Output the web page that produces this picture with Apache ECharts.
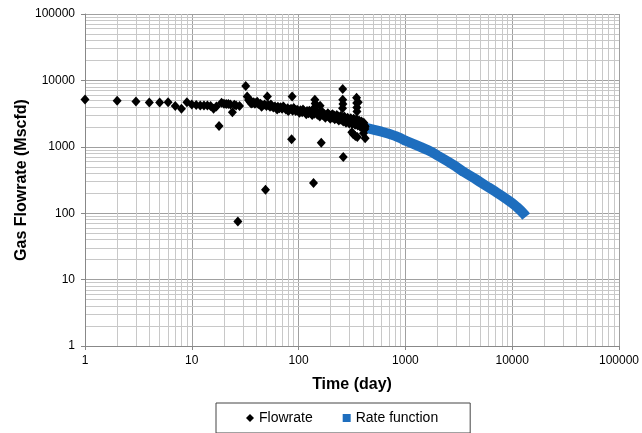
<!DOCTYPE html>
<html>
<head>
<meta charset="utf-8">
<script src="https://cdn.jsdelivr.net/npm/echarts@6/dist/echarts.min.js"></script>
<style>html,body{margin:0;padding:0;background:#fff;}#c{width:642px;height:433px;}</style>
</head>
<body>
<div id="c"></div>
<script>
// ---- data ----
var flowDays = [
  1,2,3,4,5,6,7,8,9,10,11,12,13,14,15,16,17,18,19,20,21,22,23,24,25,26,27,28,
  32,33,
  34,35,36,37,38,39,40,42,44,46,48,50,52,54,56,58,60,62,64,66,68,70,73,76,79,82,85,88,91,94,97,
  100,104,108,112,116,120,124,128,132,136,140,145,150,155,160,165,170,175,180,185,190,195,
  200,205,210,215,220,225,230,235,240,245,250,255,260,265,270,275,280,285,290,295,
  300,305,310,315,320,325,330,335,340,345,350,355,360,365,370,375,380,385,390,395,
  400,405,410,415,420,
  36,41,45,55,63,72,80,90,102,110,118,126,134,148,158,168,178,188,198,208,218,228,238,248,
  262,268,278,288,298,308,318,328,338,348,358,368,378,388,398,408,418,
  51,49,87,86,142,143,141,159,138,163,259,259,260,258,262,349,350,351,352,362,
  315,340,355,420,405,325
];
var flowRates = [
  5150,4950,4800,4650,4650,4700,4100,3750,4700,4350,4250,4200,4200,4200,4100,3750,4050,2060,4600,4450,4400,4400,4350,3300,4300,4200,75,4100,
  8200,5700,
  5050,4750,4850,4550,4700,4450,4600,4400,4450,4200,4350,4100,4250,4000,4150,3900,4050,3850,4000,3800,3950,3750,3900,3650,3800,3600,3750,3500,3700,3450,3600,
  3400,3550,3300,3450,3250,3450,3200,3350,3150,3300,3150,3300,3050,3200,3000,3200,2950,3100,2900,3050,2850,3000,
  2800,3000,2750,2950,2750,2850,2650,2850,2650,2800,2550,2700,2550,2700,2500,2650,2450,2600,2400,2550,
  2400,2550,2350,2500,2350,2500,2300,2450,2300,2450,2250,2400,2200,2350,2150,2300,2150,2250,2050,2200,
  2050,2150,2000,2100,2000,
  4500,4750,4000,4350,3650,4050,3450,3850,3250,3650,3100,3500,3000,3400,2850,3300,2750,3200,2650,3100,2600,3000,2500,2900,
  2400,2850,2300,2750,2250,2700,2200,2650,2150,2600,2100,2500,2000,2400,1900,2300,1850,
  5700,225,5700,1300,5100,4500,3900,4150,285,1150,7400,5100,4400,3800,700,5500,4550,3900,3400,4700,
  1650,1450,1400,1340,1600,1550
];
var rateDays = [410,500,600,700,800,900,1000,1200,1400,1600,1800,2000,2500,3000,3500,4000,4500,5000,6000,7000,8000,9000,10000,11000,12000,13000,13500];
var rateValues = [1960,1820,1690,1570,1460,1350,1235,1100,990,900,820,740,600,500,420,370,330,295,245,210,182,160,142,125,110,96,89];
var xTickLabels = ['1','10','100','1000','10000','100000'];
var yTickLabels = ['1','10','100','1000','10000','100000'];
var seriesNames = ['Flowrate','Rate function'];

// minor grid values 2..9 x 10^k
var minorVals = [];
for (var k = 0; k < 5; k++) for (var m = 2; m <= 9; m++) minorVals.push(m * Math.pow(10, k));

var flowData = flowDays.map(function (d, i) { return [d, flowRates[i]]; });
var rateData = rateDays.map(function (d, i) { return [d, rateValues[i]]; });

var FONT = 'Liberation Sans';
var chart = echarts.init(document.getElementById('c'), null, {renderer: 'canvas'});
chart.setOption({
  animation: false,
  backgroundColor: '#fff',
  grid: {left: 85, right: 19, top: 14, bottom: 87, containLabel: false},
  xAxis: {
    type: 'log', logBase: 10, min: 1, max: 100000,
    name: 'Time (day)', nameLocation: 'middle', nameGap: 31, nameMoveOverlap: false,
    nameTextStyle: {fontFamily: FONT, fontSize: 16, fontWeight: 'bold', color: '#000'},
    axisLine: {show: true, lineStyle: {color: '#888', width: 1}},
    axisTick: {show: true, length: 4, lineStyle: {color: '#888'}},
    axisLabel: {margin: 9, fontFamily: FONT, fontSize: 12, color: '#000',
      formatter: function (v) { return xTickLabels[Math.round(Math.log10(v))]; }},
    splitLine: {show: true, lineStyle: {color: '#a0a0a0', width: 1}}
  },
  yAxis: {
    type: 'log', logBase: 10, min: 1, max: 100000,
    name: 'Gas Flowrate (Mscfd)', nameLocation: 'middle', nameGap: 55, nameMoveOverlap: false,
    nameTextStyle: {fontFamily: FONT, fontSize: 16, fontWeight: 'bold', color: '#000'},
    axisLine: {show: true, lineStyle: {color: '#888', width: 1}},
    axisTick: {show: true, length: 4, lineStyle: {color: '#888'}},
    axisLabel: {margin: 10, fontFamily: FONT, fontSize: 12, color: '#000',
      formatter: function (v) { return yTickLabels[Math.round(Math.log10(v))]; }},
    splitLine: {show: true, lineStyle: {color: '#a0a0a0', width: 1}}
  },
  legend: {
    data: [{name: seriesNames[0], icon: 'diamond'}, {name: seriesNames[1], icon: 'rect'}],
    left: 216, top: 403,
    padding: [8, 32, 8, 30],
    itemGap: 30, itemWidth: 8, itemHeight: 8,
    borderColor: '#444', borderWidth: 1,
    textStyle: {fontFamily: FONT, fontSize: 14, color: '#000'}
  },
  series: [
    {
      name: 'grid-minor', type: 'scatter', data: [], z: 0, silent: true,
      markLine: {
        silent: true, symbol: ['none', 'none'], animation: false, z: 0, zlevel: 0,
        label: {show: false},
        lineStyle: {color: '#c8c8c8', width: 1, type: 'solid'},
        emphasis: {disabled: true},
        data: minorVals.map(function (v) { return {xAxis: v}; })
          .concat(minorVals.map(function (v) { return {yAxis: v}; }))
      }
    },
    {
      name: seriesNames[1], type: 'line', data: rateData, z: 6,
      showSymbol: false, symbol: 'rect', symbolSize: 9,
      itemStyle: {color: '#1E6EBE'},
      lineStyle: {color: '#1E6EBE', width: 10, cap: 'butt'}
    },
    {
      name: seriesNames[0], type: 'scatter', data: flowData, z: 7,
      symbol: 'diamond', symbolSize: [9, 10],
      itemStyle: {color: '#000', opacity: 1}
    }
  ]
});
</script>
</body>
</html>
